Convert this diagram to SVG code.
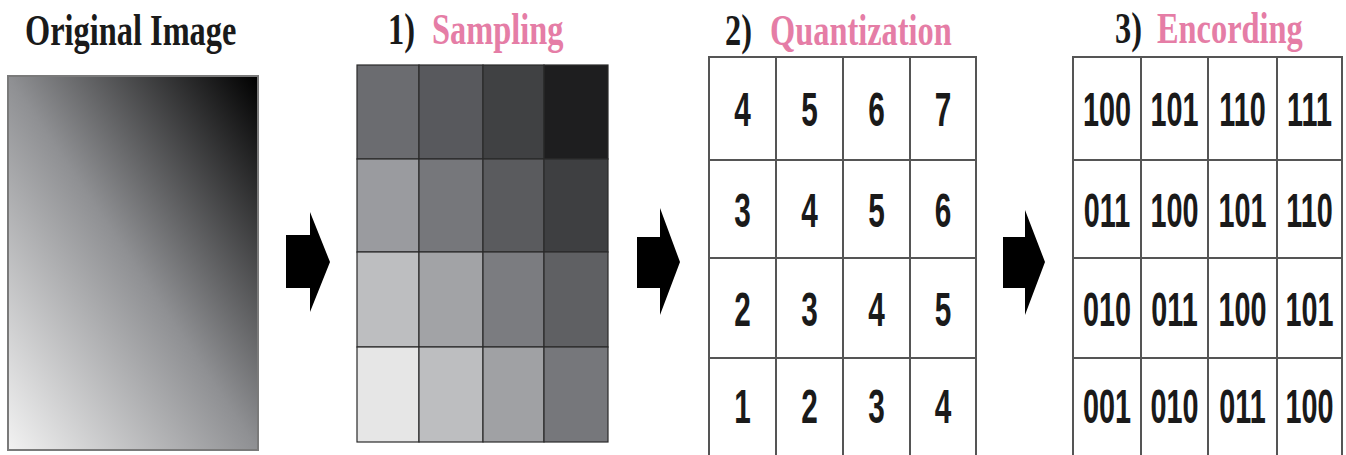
<svg xmlns="http://www.w3.org/2000/svg" width="1346" height="455" viewBox="0 0 1346 455">
<style>
.title{font-family:"Liberation Serif","Times New Roman",serif;font-weight:bold;font-size:45px;fill:#1a1a1a}
.pink{fill:#e57da6}
.num{font-family:"Liberation Sans",Arial,sans-serif;font-weight:bold;font-size:48px;fill:#1a1a1a;text-anchor:middle}
.grid{fill:#fff;stroke:#555;stroke-width:2}
.gl{stroke:#555;stroke-width:2;fill:none}
.arrow{fill:#000}
.cell{stroke:#2a2a2a;stroke-width:1.2}
</style>
<defs>
<linearGradient id="grad" x1="0" y1="1" x2="1" y2="0">
<stop offset="0" stop-color="#f2f2f2"/>
<stop offset="0.5" stop-color="#8f9093"/>
<stop offset="1" stop-color="#000"/>
</linearGradient>
</defs>
<rect width="1346" height="455" fill="#fff"/>

<g id="original">
<text class="title" transform="translate(25,45) scale(0.72,1)">Original Image</text>
<rect x="8" y="76" width="250" height="374" fill="url(#grad)" stroke="#7a7a7a" stroke-width="2"/>
</g>

<g id="sampling">
<text class="title" transform="translate(388,44) scale(0.72,1)">1)</text>
<text class="title pink" transform="translate(432,44) scale(0.72,1)">Sampling</text>
<rect class="cell" x="357" y="65" width="62" height="94" fill="#6b6c70"/>
<rect class="cell" x="419" y="65" width="64" height="94" fill="#58595d"/>
<rect class="cell" x="483" y="65" width="61" height="94" fill="#404143"/>
<rect class="cell" x="544" y="65" width="64" height="94" fill="#1e1e1f"/>
<rect class="cell" x="357" y="159" width="62" height="93" fill="#9a9b9f"/>
<rect class="cell" x="419" y="159" width="64" height="93" fill="#76777b"/>
<rect class="cell" x="483" y="159" width="61" height="93" fill="#5a5b5e"/>
<rect class="cell" x="544" y="159" width="64" height="93" fill="#3e3f41"/>
<rect class="cell" x="357" y="252" width="62" height="95" fill="#bdbec0"/>
<rect class="cell" x="419" y="252" width="64" height="95" fill="#a2a3a6"/>
<rect class="cell" x="483" y="252" width="61" height="95" fill="#7b7c80"/>
<rect class="cell" x="544" y="252" width="64" height="95" fill="#5f6063"/>
<rect class="cell" x="357" y="347" width="62" height="95" fill="#e6e6e6"/>
<rect class="cell" x="419" y="347" width="64" height="95" fill="#bdbec0"/>
<rect class="cell" x="483" y="347" width="61" height="95" fill="#a0a1a4"/>
<rect class="cell" x="544" y="347" width="64" height="95" fill="#76777b"/>
</g>

<g id="quantization">
<text class="title" transform="translate(725,45) scale(0.72,1)">2)</text>
<text class="title pink" transform="translate(770,45) scale(0.72,1)">Quantization</text>
<rect class="grid" x="709" y="57" width="267" height="400"/>
<path class="gl" d="M776 57V457M843 57V457M910 57V457M709 160H976M709 258H976M709 358H976"/>
<g class="num">
<text transform="translate(742.5,126) scale(0.62,1)">4</text>
<text transform="translate(809.5,126) scale(0.62,1)">5</text>
<text transform="translate(876.5,126) scale(0.62,1)">6</text>
<text transform="translate(943,126) scale(0.62,1)">7</text>
<text transform="translate(742.5,227) scale(0.62,1)">3</text>
<text transform="translate(809.5,227) scale(0.62,1)">4</text>
<text transform="translate(876.5,227) scale(0.62,1)">5</text>
<text transform="translate(943,227) scale(0.62,1)">6</text>
<text transform="translate(742.5,326) scale(0.62,1)">2</text>
<text transform="translate(809.5,326) scale(0.62,1)">3</text>
<text transform="translate(876.5,326) scale(0.62,1)">4</text>
<text transform="translate(943,326) scale(0.62,1)">5</text>
<text transform="translate(742.5,423) scale(0.62,1)">1</text>
<text transform="translate(809.5,423) scale(0.62,1)">2</text>
<text transform="translate(876.5,423) scale(0.62,1)">3</text>
<text transform="translate(943,423) scale(0.62,1)">4</text>
</g>
</g>

<g id="encoding">
<text class="title" transform="translate(1115,43) scale(0.72,1)">3)</text>
<text class="title pink" transform="translate(1157,43) scale(0.72,1)">Encording</text>
<rect class="grid" x="1073" y="57" width="269" height="400"/>
<path class="gl" d="M1141 57V457M1208 57V457M1277 57V457M1073 160H1342M1073 258H1342M1073 358H1342"/>
<g class="num">
<text transform="translate(1107,126) scale(0.6,1)">100</text>
<text transform="translate(1174.5,126) scale(0.6,1)">101</text>
<text transform="translate(1242.5,126) scale(0.6,1)">110</text>
<text transform="translate(1309.5,126) scale(0.6,1)">111</text>
<text transform="translate(1107,227) scale(0.6,1)">011</text>
<text transform="translate(1174.5,227) scale(0.6,1)">100</text>
<text transform="translate(1242.5,227) scale(0.6,1)">101</text>
<text transform="translate(1309.5,227) scale(0.6,1)">110</text>
<text transform="translate(1107,326) scale(0.6,1)">010</text>
<text transform="translate(1174.5,326) scale(0.6,1)">011</text>
<text transform="translate(1242.5,326) scale(0.6,1)">100</text>
<text transform="translate(1309.5,326) scale(0.6,1)">101</text>
<text transform="translate(1107,423) scale(0.6,1)">001</text>
<text transform="translate(1174.5,423) scale(0.6,1)">010</text>
<text transform="translate(1242.5,423) scale(0.6,1)">011</text>
<text transform="translate(1309.5,423) scale(0.6,1)">100</text>
</g>
</g>

<g id="connectors">
<polygon class="arrow" points="286,235 310,235 310,212 330,262 310,312 310,288 286,288"/>
<polygon class="arrow" points="637,237 660,237 660,208 680,262 660,315 660,288 637,288"/>
<polygon class="arrow" points="1003,237 1025,237 1025,210 1045,262 1025,315 1025,288 1003,288"/>
</g>
</svg>
